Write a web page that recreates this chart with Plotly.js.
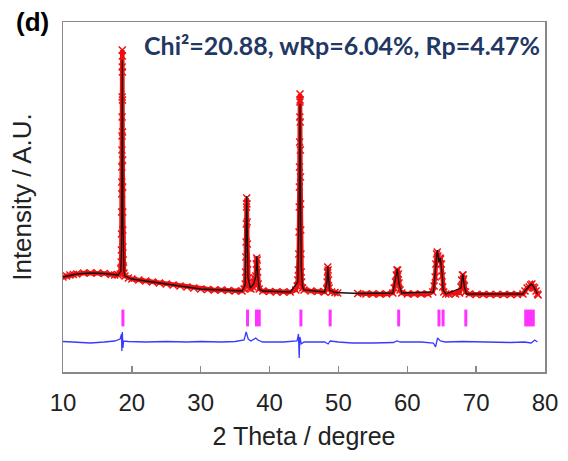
<!DOCTYPE html>
<html>
<head>
<meta charset="utf-8">
<script src="https://cdn.plot.ly/plotly-3.0.1.min.js"></script>
<style>html,body{margin:0;padding:0;background:#fff;}#chart{width:568px;height:461px;}</style>
</head>
<body>
<div id="chart"></div>
<script>
// Observed pattern (2θ, intensity in arbitrary units); null marks the excluded region
var obsX = [10,10.5,11,11.5,12,13,14,15,16,17,17.5,18,18.3,
  18.40,18.45,18.48,18.50,18.52,18.53,18.54,18.55,18.56,18.57,18.58,18.59,18.60,18.61,18.62,18.63,18.64,18.65,18.66,18.67,18.68,18.69,18.71,18.74,18.78,18.85,19.0,
  19.5,20,21,22,23,24,25,26,27,28,29,30,31,32,33,34,35,36,36.3,
  36.45,36.52,36.56,36.59,36.62,36.65,36.68,36.71,36.74,36.77,36.80,36.85,36.95,37.1,37.3,
  37.6,37.75,37.85,37.92,38.0,38.08,38.14,38.2,38.27,38.35,38.5,39,40,41,42,43,43.8,44.0,
  44.1,44.18,44.24,44.28,44.31,44.33,44.35,44.37,44.39,44.41,44.42,44.43,44.45,44.47,44.49,44.51,44.53,44.56,44.6,44.66,44.8,45,46,47,48,48.3,
  48.35,48.4,48.45,48.5,48.56,48.65,49,49.5,49.9,
  51,
  52.8,54,55,56,57,57.9,58.1,
  58.3,58.4,58.5,58.6,58.7,58.8,58.95,59.2,60,61,62,63,63.7,63.9,
  64.05,64.15,64.25,64.35,64.45,64.55,64.65,64.75,64.85,64.95,65.05,65.15,65.3,65.6,66,67,67.6,67.8,
  67.9,68.0,68.1,68.2,68.3,68.45,69,70,71,72,73,74,75,76,76.8,77.1,77.4,77.7,77.9,78.1,78.3,78.5,78.7,78.9,79.0];
var obsY = [95,96,97,97.5,98,99,99,99,98.5,97.5,97,97,98,
  103,110,122,138,160,178,190,205,222,236,255,275,305,322,316,300,272,240,212,185,160,142,125,112,104,99,96,
  94,93,92,91,90,89,88,87,86,85,84,83,82.5,82,82,81.5,81,81,83,
  88,100,115,130,148,165,174,168,150,128,108,94,86,84,83,
  85,90,94,92,96,108,114,112,100,88,83,81,80.5,80,80,80,82,86,
  92,102,118,140,165,185,205,230,255,270,278,272,250,222,195,168,142,118,100,90,84,82,81,80.5,80,83,
  90,100,105,102,92,84,80,79.5,79,
  null,
  78.5,78,78,78,78,79,84,
  90,97,102,102,98,89,82,79,78,78,78,78,80,86,
  95,108,118,120,116,110,112,114,113,108,96,85,80,78,78,78,79,85,
  92,97,97,93,86,80,78,77.5,77.5,77.5,77.5,77.5,77.5,77.5,78,81,84,85,87,88,85,84,81,78,77];

// Calculated profile
var calcX = [10,12,14,16,18,18.4,18.5,18.55,18.6,18.62,18.65,18.7,18.75,18.85,19,20,22,25,28,30,33,36,
  36.45,36.6,36.68,36.75,36.85,37.2,37.7,37.9,38.0,38.15,38.3,38.5,39,43,
  44.1,44.3,44.42,44.5,44.6,44.8,45,48,48.35,48.45,48.56,48.7,49.5,51,53,57.9,
  58.3,58.55,58.8,59.2,63.8,64.2,64.35,64.6,64.8,65.1,65.2,65.6,67.8,68.05,68.3,68.6,
  76.8,77.2,77.6,78.0,78.3,78.6,78.9];
var calcY = [95,98,99,98.5,97,101,125,190,290,312,250,150,115,100,96,93,91,88,85,83,82,81,
  87,140,176,145,95,84,88,93,95,116,95,83,81,80,
  90,170,268,180,105,85,82,80,90,106,92,82,79.5,79,78.5,79,
  92,103,88,79,80,115,122,110,114,95,82,78,84,98,85,78,
  78,82,85,88,86,82,78];

// Difference curve (offset)
var diffX = [10,12,14,16,17.5,18.3,18.5,18.55,18.62,18.7,18.8,19.5,22,25,28,30,33,35,
  36.3,36.6,36.9,37.3,38.0,38.3,39,42,44.0,44.2,44.3,44.4,44.6,45,48,48.5,48.8,50,52,55,
  58,58.5,59,62,63.8,64.1,64.4,64.8,65.5,68,70,75,77,78,78.5,78.9];
var diffY = [30.5,29.5,29,30,31,33,38,21,40,24,31,30.5,30,30.5,30,30.5,30,30.5,
  32,40,33,31,34,32,30,30,31,38,14,35,28,30,30,28,31,30,29,29,
  29.5,31,30,30,29,25,34,31,30,30.5,30,29.5,30,29,32,30];

// Bragg reflection positions
var braggX = [18.7,36.8,38.1,38.5,44.55,48.8,58.75,64.6,65.2,68.5,77.2,77.55,77.9,78.3];
var braggLevel = 54;
var braggY = braggX.map(function(){ return braggLevel; });

var xTicks = [10,20,30,40,50,60,70,80];

var traces = [
  {x: obsX, y: obsY, mode: 'lines+markers', type: 'scatter', connectgaps: false,
   line: {color: '#f01010', width: 4.5},
   marker: {symbol: 'x-thin', size: 7, color: '#f01010', line: {color: '#f01010', width: 1.5}},
   hoverinfo: 'skip'},
  {x: calcX, y: calcY, mode: 'lines', type: 'scatter',
   line: {color: '#111111', width: 1.3}, hoverinfo: 'skip'},
  {x: braggX, y: braggY, mode: 'markers', type: 'scatter',
   marker: {symbol: 'line-ns', size: 12, color: '#ff33ff', line: {color: '#ff33ff', width: 3}},
   hoverinfo: 'skip'},
  {x: diffX, y: diffY, mode: 'lines', type: 'scatter',
   line: {color: '#3a3aff', width: 1.3}, hoverinfo: 'skip'}
];

var layout = {
  width: 568, height: 461,
  margin: {l: 63, r: 23, t: 22, b: 89},
  paper_bgcolor: '#ffffff', plot_bgcolor: '#ffffff',
  showlegend: false,
  font: {family: 'Liberation Sans, Arial, sans-serif', color: '#222'},
  xaxis: {
    range: [10, 80], tickvals: xTicks, ticktext: xTicks.map(String),
    ticks: 'inside', ticklen: 6, tickwidth: 1.3, tickcolor: '#888',
    showline: true, linecolor: '#888', linewidth: 1.5, mirror: true,
    showgrid: false, zeroline: false,
    tickfont: {size: 24, color: '#222'}, ticklabelstandoff: 9,
    title: {text: '2 Theta / degree', font: {size: 25, color: '#222'}, standoff: 12}
  },
  yaxis: {
    range: [0, 350], showticklabels: false, ticks: '',
    showline: true, linecolor: '#888', linewidth: 1.5, mirror: true,
    showgrid: false, zeroline: false,
    title: {text: 'Intensity / A.U.', font: {size: 26, color: '#222'}, standoff: 22}
  },
  annotations: [
    {text: '<b>(d)</b>', xref: 'paper', yref: 'paper', x: -0.102, y: 1.0,
     xanchor: 'left', yanchor: 'middle', showarrow: false,
     font: {size: 26, color: '#000', family: 'Liberation Sans, Arial, sans-serif'}},
    {text: 'Chi\u00b2=20.88, wRp=6.04%, Rp=4.47%', xref: 'paper', yref: 'paper',
     x: 0.164, y: 0.934, xanchor: 'left', yanchor: 'middle', showarrow: false,
     font: {size: 25, color: '#1f3864', family: 'Lato, Open Sans, sans-serif', weight: 700}}
  ]
};

Plotly.newPlot('chart', traces, layout, {staticPlot: true, displayModeBar: false});
</script>
</body>
</html>
